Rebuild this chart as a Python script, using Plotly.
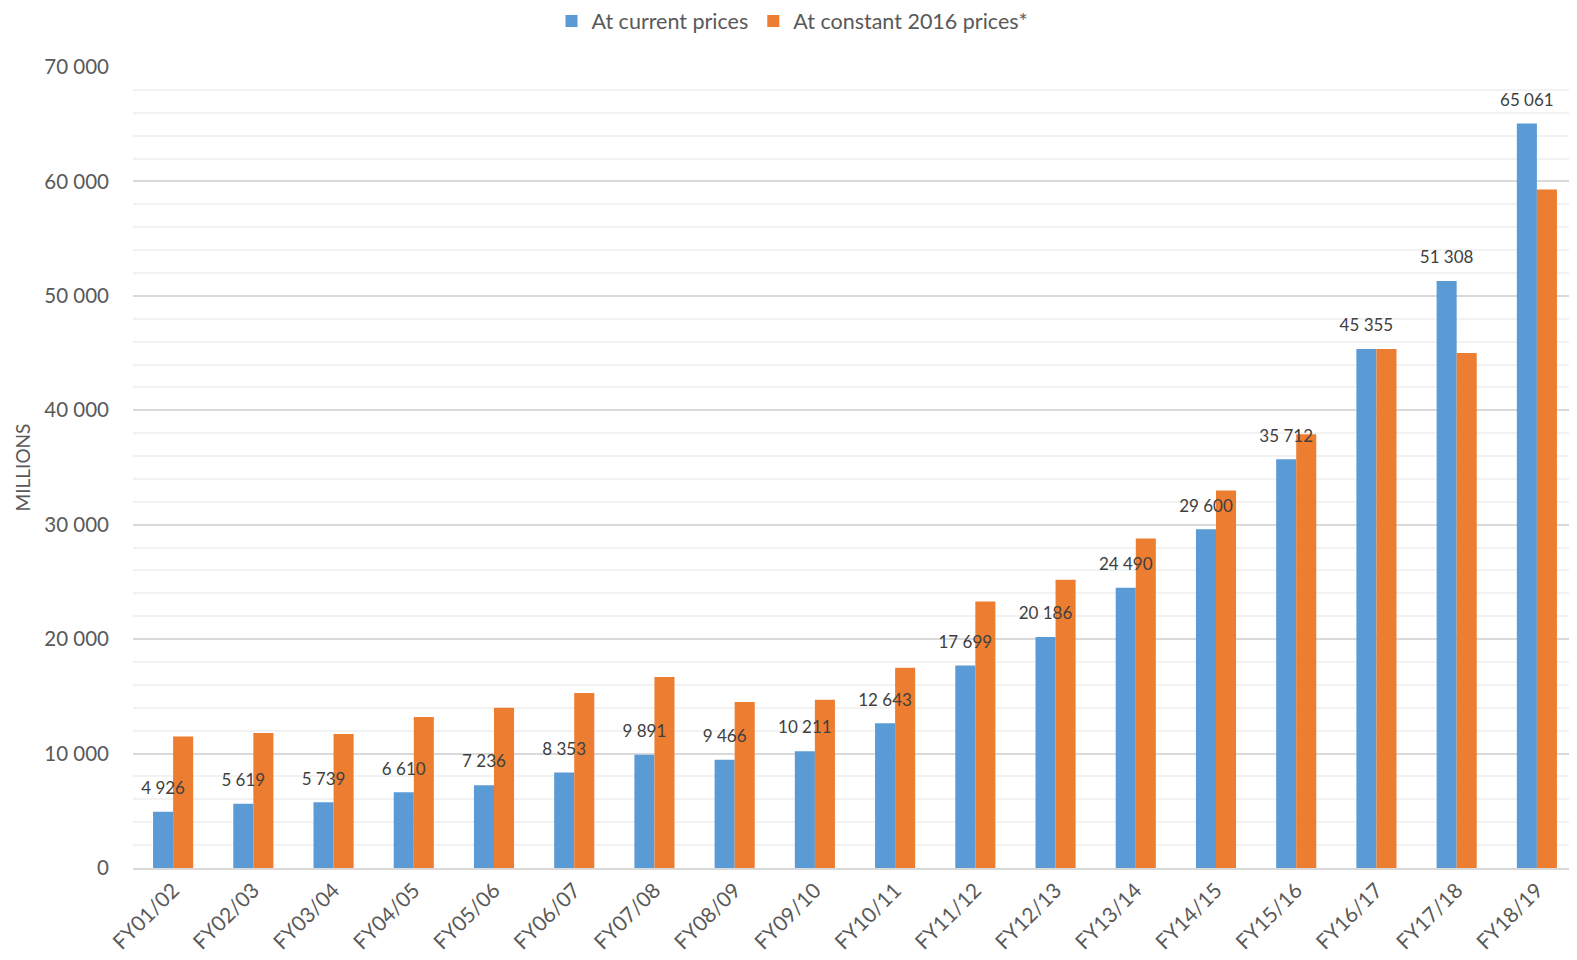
import plotly.graph_objects as go

categories = ["FY01/02", "FY02/03", "FY03/04", "FY04/05", "FY05/06", "FY06/07",
              "FY07/08", "FY08/09", "FY09/10", "FY10/11", "FY11/12", "FY12/13",
              "FY13/14", "FY14/15", "FY15/16", "FY16/17", "FY17/18", "FY18/19"]
current_prices = [4926, 5619, 5739, 6610, 7236, 8353, 9891, 9466, 10211, 12643,
                  17699, 20186, 24490, 29600, 35712, 45355, 51308, 65061]
constant_prices = [11500, 11800, 11700, 13200, 14000, 15300, 16700, 14500, 14700, 17500,
                   23300, 25200, 28800, 33000, 37900, 45355, 45000, 59300]

BLUE = "#5B9BD5"
ORANGE = "#ED7D31"
FONT = "Lato, 'Open Sans', sans-serif"

idx = list(range(len(categories)))

W, H = 1569, 952
ML, MR, MT, MB = 125, 0, 59, 92
plot_h = H - MT - MB

fig = go.Figure()
fig.add_trace(go.Bar(
    x=idx, y=current_prices, name="At current prices",
    marker=dict(color=BLUE, line=dict(width=0)),
    offset=-0.25, width=0.25,
))
fig.add_trace(go.Bar(
    x=idx, y=constant_prices, name="At constant 2016 prices*",
    marker=dict(color=ORANGE, line=dict(width=0)),
    offset=0.0, width=0.25,
))
fig.add_trace(go.Scatter(
    x=[i - 0.125 for i in idx], y=current_prices, mode="markers+text",
    marker=dict(size=20, color="rgba(0,0,0,0)"),
    text=[f"{v:,}".replace(",", " ") for v in current_prices],
    textposition="top center",
    textfont=dict(family=FONT, size=17, color="#404040"),
    showlegend=False, hoverinfo="skip", cliponaxis=False,
))

fig.update_layout(
    width=W, height=H,
    margin=dict(l=ML, r=MR, t=MT, b=MB, autoexpand=False),
    paper_bgcolor="white", plot_bgcolor="white",
    barmode="overlay",
    separators=", ",
    font=dict(family=FONT, color="#595959"),
    legend=dict(orientation="h", x=0.5, xanchor="center", xref="container",
                y=1 + (MT - 13) / plot_h, yanchor="middle",
                font=dict(size=21.5, color="#595959"),
                itemwidth=30, traceorder="normal"),
)
fig.update_xaxes(
    range=[-0.5, len(categories) - 0.5], automargin=False,
    tickmode="array", tickvals=idx, ticktext=categories,
    tickangle=-45, tickfont=dict(size=21, color="#595959"),
    showgrid=False, zeroline=False,
    showline=True, linecolor="#D9D9D9", linewidth=1.5,
    ticks="",
)
fig.update_yaxes(
    range=[0, 70000], dtick=10000, tickformat=",d", automargin=False,
    tickfont=dict(size=20.5, color="#595959"),
    showgrid=True, gridcolor="#D9D9D9", gridwidth=1.5,
    minor=dict(dtick=2000, showgrid=True, gridcolor="#F2F2F2", gridwidth=1.5),
    zeroline=False, showline=False, ticks="",
    ticklabelstandoff=23,
    title=dict(text="MILLIONS", font=dict(size=19, color="#595959"), standoff=8),
)

fig.write_html("out.html")
